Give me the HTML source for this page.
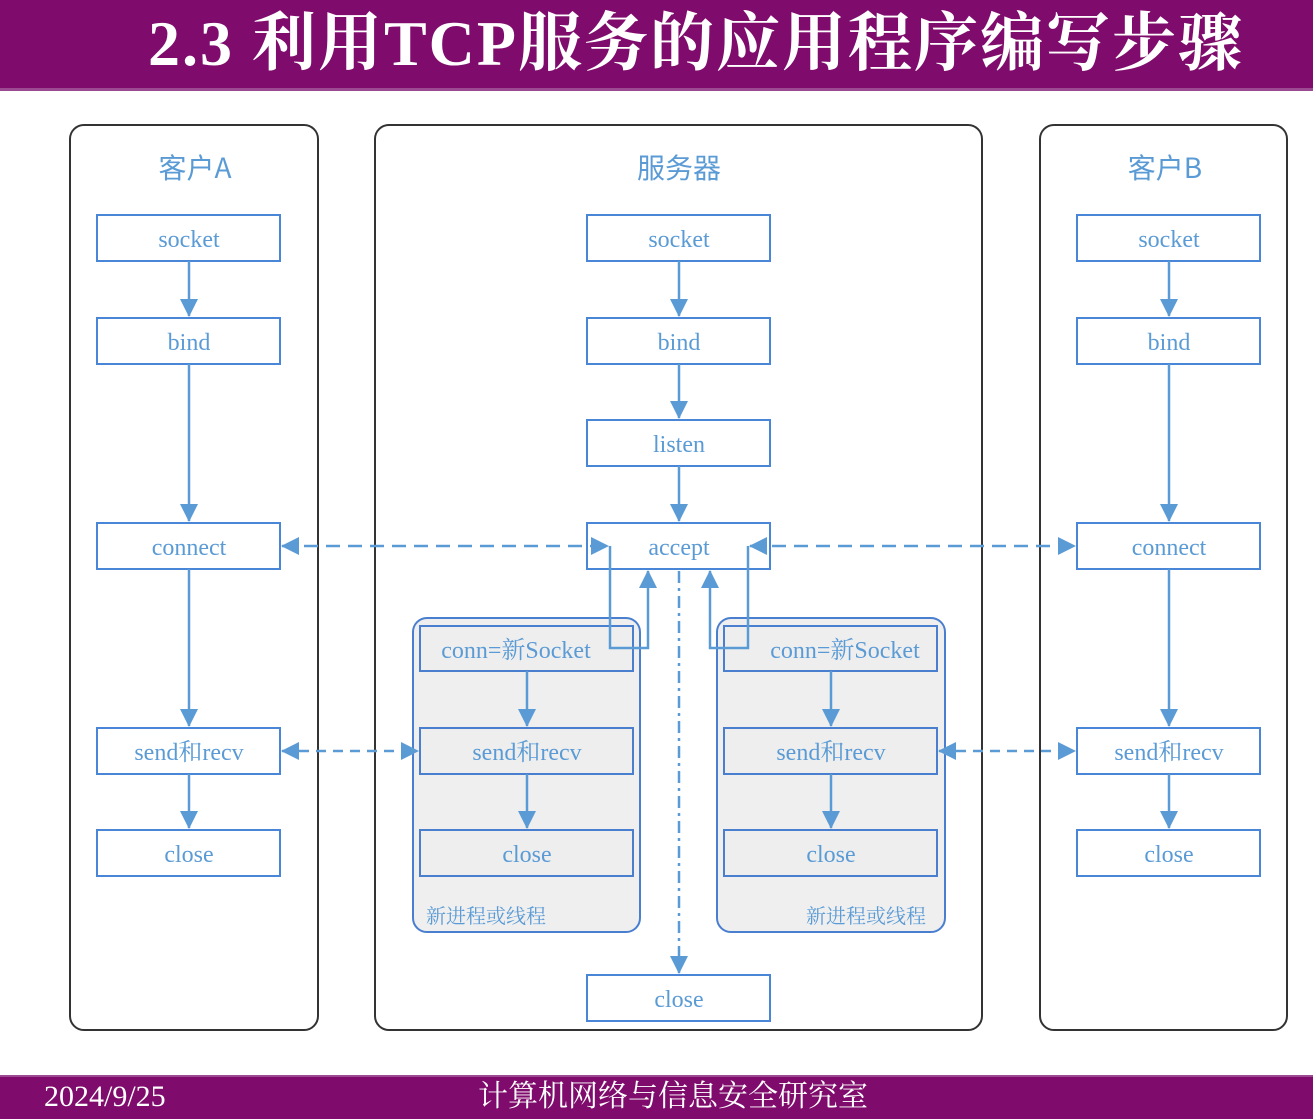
<!DOCTYPE html>
<html><head><meta charset="utf-8"><style>
body{margin:0;width:1313px;height:1117px;overflow:hidden;background:#fff;position:relative}
.hdr{position:absolute;left:0;top:0;width:1313px;height:88px;background:#7f0c6c;border-bottom:3px solid #9b4a92}
.hdr span{position:absolute;left:148px;top:4px;font:bold 64px "Liberation Serif","Noto Serif CJK SC",serif;color:#fff;white-space:nowrap;line-height:80px;letter-spacing:2px}
.ftr{position:absolute;left:0;top:1075px;width:1313px;height:42px;background:#7f0c6c;border-top:2px solid #9b4a92}
.ftr span{position:absolute;top:2px;font:30px "Liberation Serif","Noto Serif CJK SC",serif;color:#fff;white-space:nowrap;line-height:36px}
svg text{font-family:"Liberation Serif","Noto Serif CJK SC",serif;fill:#5b9bd5}
</style></head><body>
<div class="hdr"><span>2.3 利用TCP服务的应用程序编写步骤</span></div>
<svg width="1313" height="1117" style="position:absolute;left:0;top:0">
<defs>
<marker id="b" markerWidth="18" markerHeight="18" refX="17" refY="9" orient="auto-start-reverse" markerUnits="userSpaceOnUse"><path d="M0,0 L18,9 L0,18 z" fill="#5b9bd5"/></marker>
</defs>
<g fill="none" stroke="#333" stroke-width="2">
<rect x="70" y="125" width="248" height="905" rx="14"/>
<rect x="375" y="125" width="607" height="905" rx="14"/>
<rect x="1040" y="125" width="247" height="905" rx="14"/>
</g>
<g font-size="28" text-anchor="middle">
<text x="195" y="178" style="font-family:'Noto Sans CJK SC',sans-serif">客户A</text>
<text x="679" y="178" style="font-family:'Noto Sans CJK SC',sans-serif">服务器</text>
<text x="1165" y="178" style="font-family:'Noto Sans CJK SC',sans-serif">客户B</text>
</g>
<g fill="#efefef" stroke="#4a7fd0" stroke-width="2">
<rect x="413" y="618" width="227" height="314" rx="14"/>
<rect x="717" y="618" width="228" height="314" rx="14"/>
</g>
<g fill="#fff" stroke="#4a86d8" stroke-width="2">
<rect x="97" y="215" width="183" height="46"/><rect x="97" y="318" width="183" height="46"/><rect x="97" y="523" width="183" height="46"/><rect x="97" y="728" width="183" height="46"/><rect x="97" y="830" width="183" height="46"/>
<rect x="587" y="215" width="183" height="46"/><rect x="587" y="318" width="183" height="46"/><rect x="587" y="420" width="183" height="46"/><rect x="587" y="523" width="183" height="46"/><rect x="587" y="975" width="183" height="46"/>
<rect x="1077" y="215" width="183" height="46"/><rect x="1077" y="318" width="183" height="46"/><rect x="1077" y="523" width="183" height="46"/><rect x="1077" y="728" width="183" height="46"/><rect x="1077" y="830" width="183" height="46"/>
</g>
<g fill="#eee" stroke="#4a7fd0" stroke-width="2">
<rect x="420" y="626" width="213" height="45"/><rect x="420" y="728" width="213" height="46"/><rect x="420" y="830" width="213" height="46"/>
<rect x="724" y="626" width="213" height="45"/><rect x="724" y="728" width="213" height="46"/><rect x="724" y="830" width="213" height="46"/>
</g>
<g font-size="24" text-anchor="middle">
<text x="189" y="247">socket</text><text x="189" y="350">bind</text><text x="189" y="555">connect</text><text x="189" y="760">send和recv</text><text x="189" y="862">close</text>
<text x="679" y="247">socket</text><text x="679" y="350">bind</text><text x="679" y="452">listen</text><text x="679" y="555">accept</text><text x="679" y="1007">close</text>
<text x="1169" y="247">socket</text><text x="1169" y="350">bind</text><text x="1169" y="555">connect</text><text x="1169" y="760">send和recv</text><text x="1169" y="862">close</text>
<text x="516" y="658">conn=新Socket</text><text x="527" y="760">send和recv</text><text x="527" y="862">close</text>
<text x="845" y="658">conn=新Socket</text><text x="831" y="760">send和recv</text><text x="831" y="862">close</text>
</g>
<g font-size="20"><text x="426" y="923">新进程或线程</text><text x="806" y="923">新进程或线程</text></g>
<g stroke="#5b9bd5" stroke-width="2.5" fill="none">
<line x1="189" y1="261" x2="189" y2="316" marker-end="url(#b)"/>
<line x1="189" y1="364" x2="189" y2="521" marker-end="url(#b)"/>
<line x1="189" y1="569" x2="189" y2="726" marker-end="url(#b)"/>
<line x1="189" y1="774" x2="189" y2="828" marker-end="url(#b)"/>
<line x1="679" y1="261" x2="679" y2="316" marker-end="url(#b)"/>
<line x1="679" y1="364" x2="679" y2="418" marker-end="url(#b)"/>
<line x1="679" y1="466" x2="679" y2="521" marker-end="url(#b)"/>
<line x1="1169" y1="261" x2="1169" y2="316" marker-end="url(#b)"/>
<line x1="1169" y1="364" x2="1169" y2="521" marker-end="url(#b)"/>
<line x1="1169" y1="569" x2="1169" y2="726" marker-end="url(#b)"/>
<line x1="1169" y1="774" x2="1169" y2="828" marker-end="url(#b)"/>
<line x1="527" y1="671" x2="527" y2="726" marker-end="url(#b)"/>
<line x1="527" y1="774" x2="527" y2="828" marker-end="url(#b)"/>
<line x1="831" y1="671" x2="831" y2="726" marker-end="url(#b)"/>
<line x1="831" y1="774" x2="831" y2="828" marker-end="url(#b)"/>
<line x1="282" y1="546" x2="608" y2="546" stroke-dasharray="14,8" marker-start="url(#b)" marker-end="url(#b)"/>
<line x1="750" y1="546" x2="1075" y2="546" stroke-dasharray="14,8" marker-start="url(#b)" marker-end="url(#b)"/>
<line x1="282" y1="751" x2="418" y2="751" stroke-dasharray="10,7" marker-start="url(#b)" marker-end="url(#b)"/>
<line x1="939" y1="751" x2="1075" y2="751" stroke-dasharray="10,7" marker-start="url(#b)" marker-end="url(#b)"/>
<polyline points="610,546 610,648 648,648 648,571" marker-end="url(#b)"/>
<polyline points="748,546 748,648 710,648 710,571" marker-end="url(#b)"/>
<line x1="679" y1="571" x2="679" y2="973" stroke-dasharray="12,5,3,5" marker-end="url(#b)"/>
</g>
</svg>
<div class="ftr"><span style="left:44px">2024/9/25</span><span style="left:478px">计算机网络与信息安全研究室</span></div>
</body></html>
